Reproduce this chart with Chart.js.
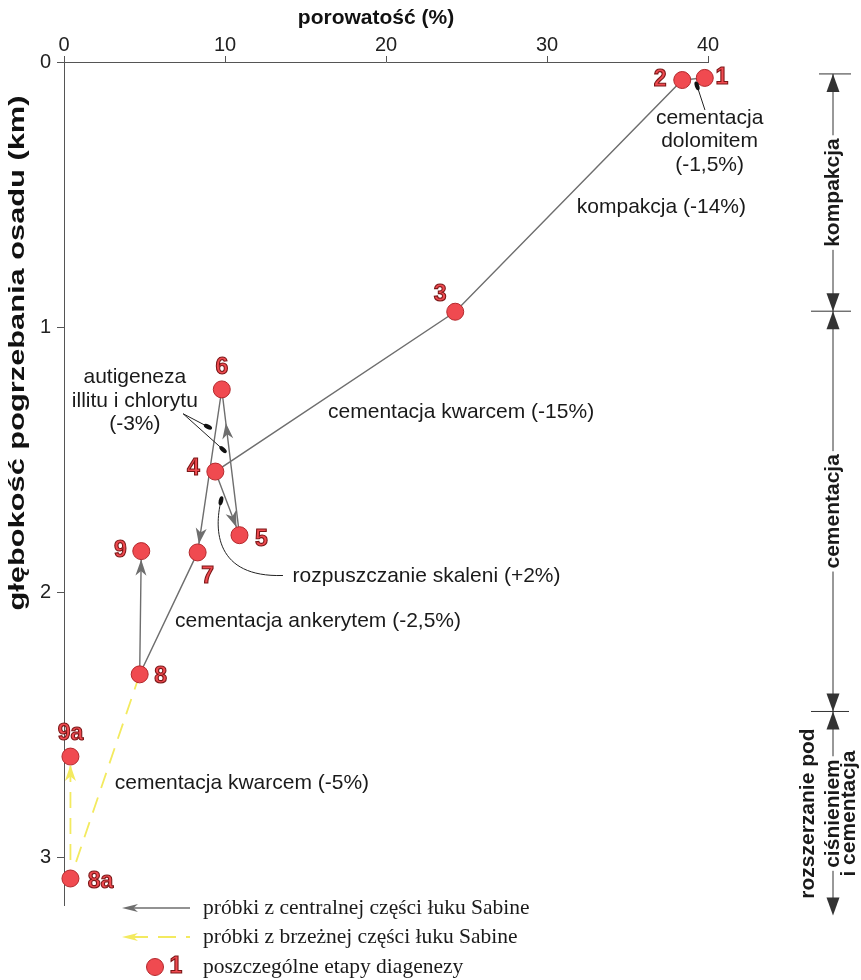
<!DOCTYPE html>
<html lang="pl">
<head>
<meta charset="utf-8">
<title>Porowatość a głębokość pogrzebania</title>
<script src="https://cdn.jsdelivr.net/npm/chart.js@4.4.1/dist/chart.umd.min.js"></script>
<style>
  html, body { margin: 0; padding: 0; background: #fff; }
  #wrap { width: 861px; height: 980px; }
</style>
</head>
<body>
<div id="wrap"><canvas id="diagenesisChart" width="861" height="980"></canvas></div>
<script>
// etapy diagenezy: porowatość (%) i głębokość pogrzebania (km)
const stageLabels = ['1', '2', '3', '4', '5', '6', '7', '8', '9', '8a', '9a'];
const porosity = [39.8, 38.4, 24.3, 9.4, 10.9, 9.8, 8.3, 4.7, 4.8, 0.4, 0.4];
const depth = [0.06, 0.068, 0.942, 1.545, 1.785, 1.235, 1.85, 2.31, 1.845, 3.08, 2.62];

// kolejność etapów na ścieżkach
const centralPath = ['1', '2', '3', '4', '5', '6', '7', '8', '9'];
const marginalPath = ['8', '8a', '9a'];

const xTicks = [0, 10, 20, 30, 40];
const yTicks = [0, 1, 2, 3];

// fazy na prawej skali (granice w km)
const phaseNames = [['kompakcja'], ['cementacja'], ['rozszerzanie pod', 'ciśnieniem', 'i cementacja']];
const phaseBounds = [0.045, 0.94, 2.45, 3.22];

const legendItems = [
    'próbki z centralnej części łuku Sabine',
    'próbki z brzeżnej części łuku Sabine',
    'poszczególne etapy diagenezy'
];

const GRAY = '#6e6e6e';
const YELLOW = '#f3ea5f';
const RED = '#f04a50';
const SANS = '"Liberation Sans", Arial, sans-serif';
const NARROW = '"Liberation Sans Narrow", "Liberation Sans", Arial, sans-serif';
const SERIF = '"Liberation Serif", "Times New Roman", serif';

// opisy procesów (pozycje w jednostkach wykresu)
const notes = [
    { lines: ['cementacja', 'dolomitem', '(-1,5%)'], x: 40.1, y: 0.211, align: 'center' },
    { lines: ['kompakcja (-14%)'], x: 31.85, y: 0.547, align: 'left' },
    { lines: ['autigeneza', 'illitu i chlorytu', '(-3%)'], x: 4.4, y: 1.19, align: 'center' },
    { lines: ['cementacja kwarcem (-15%)'], x: 16.4, y: 1.32, align: 'left' },
    { lines: ['rozpuszczanie skaleni (+2%)'], x: 14.2, y: 1.94, align: 'left' },
    { lines: ['cementacja ankerytem (-2,5%)'], x: 6.9, y: 2.11, align: 'left' },
    { lines: ['cementacja kwarcem (-5%)'], x: 3.15, y: 2.72, align: 'left' }
];

// odnośniki do opisów
const leaders = [
    { from: [39.81, 0.181], to: [39.32, 0.09] },
    { from: [7.4, 1.327], to: [8.94, 1.376] },
    { from: [7.4, 1.327], to: [9.88, 1.462] },
    { from: [13.6, 1.937], c1: [9.38, 1.945], c2: [9.32, 1.764], to: [9.75, 1.655] }
];

// groty strzałek na odcinkach (t = część odcinka, 'end' = przy punkcie)
const arrowHeads = [
    { from: '4', to: '5', t: 'end', color: GRAY },
    { from: '5', to: '6', t: 0.77, color: GRAY },
    { from: '6', to: '7', t: 'end', color: GRAY },
    { from: '8', to: '9', t: 'end', color: GRAY },
    { from: '8a', to: '9a', t: 'end', color: YELLOW }
];

const labelOffsets = {
    '1': [17, 0], '2': [-22, 0], '3': [-15, -17], '4': [-22, -3], '5': [22, 4],
    '6': [0, -22], '7': [10, 24], '8': [21, 2], '9': [-21, 0], '8a': [30, 3], '9a': [0, -23]
};

const POINT_R = 8.5;

function stagePoint(s) {
    const i = stageLabels.indexOf(s);
    return { x: porosity[i], y: depth[i] };
}

function drawHead(ctx, tx, ty, dx, dy, color, len = 16, half = 5.5) {
    const nx = -dy, ny = dx;
    ctx.save();
    ctx.fillStyle = color;
    ctx.beginPath();
    ctx.moveTo(tx, ty);
    ctx.lineTo(tx - len * dx + half * nx, ty - len * dy + half * ny);
    ctx.lineTo(tx - len * 0.72 * dx, ty - len * 0.72 * dy);
    ctx.lineTo(tx - len * dx - half * nx, ty - len * dy - half * ny);
    ctx.closePath();
    ctx.fill();
    ctx.restore();
}

function drawLeaf(ctx, x, y, angle) {
    ctx.save();
    ctx.fillStyle = '#111';
    ctx.beginPath();
    ctx.ellipse(x, y, 4.5, 2.2, angle, 0, Math.PI * 2);
    ctx.fill();
    ctx.restore();
}

function drawTri(ctx, x, tipY, dir) {
    // dir = -1 grot w górę, 1 grot w dół
    ctx.beginPath();
    ctx.moveTo(x, tipY);
    ctx.lineTo(x - 6.5, tipY - dir * 18);
    ctx.lineTo(x + 6.5, tipY - dir * 18);
    ctx.closePath();
    ctx.fill();
}

function stageText(ctx, txt, x, y, size) {
    ctx.font = 'bold ' + size + 'px ' + SANS;
    ctx.textAlign = 'center';
    ctx.textBaseline = 'middle';
    ctx.fillStyle = RED;
    ctx.fillText(txt, x, y);
    ctx.lineWidth = 1.1;
    ctx.strokeStyle = '#7a1616';
    ctx.strokeText(txt, x, y);
}

// tekst obrócony, rozciągnięty do zadanej długości
function fitText(ctx, txt, x, y, target) {
    const w = ctx.measureText(txt).width;
    ctx.save();
    ctx.translate(x, y);
    ctx.rotate(-Math.PI / 2);
    ctx.scale(target / w, 1);
    ctx.fillText(txt, 0, 0);
    ctx.restore();
}

const diagramExtras = {
    id: 'diagramExtras',
    afterDatasetsDraw(chart) {
        const ctx = chart.ctx;
        const xs = chart.scales.x, ys = chart.scales.y;
        const P = (x, y) => [xs.getPixelForValue(x), ys.getPixelForValue(y)];

        // groty strzałek
        arrowHeads.forEach(a => {
            const p0 = stagePoint(a.from), p1 = stagePoint(a.to);
            const [x0, y0] = P(p0.x, p0.y), [x1, y1] = P(p1.x, p1.y);
            const L = Math.hypot(x1 - x0, y1 - y0);
            const dx = (x1 - x0) / L, dy = (y1 - y0) / L;
            let tx, ty;
            if (a.t === 'end') { tx = x1 - dx * POINT_R; ty = y1 - dy * POINT_R; }
            else { tx = x0 + (x1 - x0) * a.t; ty = y0 + (y1 - y0) * a.t; }
            drawHead(ctx, tx, ty, dx, dy, a.color);
        });

        // etykiety etapów
        ctx.save();
        stageLabels.forEach((s, i) => {
            const [px, py] = P(porosity[i], depth[i]);
            const off = labelOffsets[s];
            stageText(ctx, s, px + off[0], py + off[1], 23);
        });
        ctx.restore();

        // opisy
        ctx.save();
        ctx.fillStyle = '#1a1a1a';
        ctx.font = '21px ' + SANS;
        ctx.textBaseline = 'middle';
        notes.forEach(n => {
            const [px, py] = P(n.x, n.y);
            ctx.textAlign = n.align;
            n.lines.forEach((ln, k) => ctx.fillText(ln, px, py + k * 23.5));
        });
        ctx.restore();

        // odnośniki
        ctx.save();
        ctx.strokeStyle = '#222';
        ctx.lineWidth = 1;
        leaders.forEach(l => {
            const [ax, ay] = P(l.from[0], l.from[1]);
            const [bx, by] = P(l.to[0], l.to[1]);
            ctx.beginPath();
            ctx.moveTo(ax, ay);
            let ang;
            if (l.c1) {
                const [c1x, c1y] = P(l.c1[0], l.c1[1]);
                const [c2x, c2y] = P(l.c2[0], l.c2[1]);
                ctx.bezierCurveTo(c1x, c1y, c2x, c2y, bx, by);
                ang = Math.atan2(by - c2y, bx - c2x);
            } else {
                ctx.lineTo(bx, by);
                ang = Math.atan2(by - ay, bx - ax);
            }
            ctx.stroke();
            drawLeaf(ctx, bx, by, ang);
        });
        ctx.restore();

        // tytuły osi
        ctx.save();
        ctx.fillStyle = '#111';
        ctx.font = 'bold 21px ' + SANS;
        ctx.textAlign = 'center';
        ctx.textBaseline = 'middle';
        ctx.fillText('porowatość (%)', 376, 18);
        ctx.font = 'bold 22px ' + SANS;
        fitText(ctx, 'głębokość pogrzebania osadu (km)', 18, 353, 515);
        ctx.restore();

        // prawa skala faz
        ctx.save();
        const bx = chart.chartArea.right + 125;
        const yb = phaseBounds.map(v => ys.getPixelForValue(v));
        ctx.strokeStyle = '#333';
        ctx.fillStyle = '#333';
        ctx.lineWidth = 1;
        ctx.beginPath();
        ctx.moveTo(bx, yb[0]);
        ctx.lineTo(bx, yb[3] - 4);
        ctx.moveTo(bx - 14, yb[0]); ctx.lineTo(bx + 18, yb[0]);
        ctx.moveTo(bx - 22, yb[1]); ctx.lineTo(bx + 18, yb[1]);
        ctx.moveTo(bx - 22, yb[2]); ctx.lineTo(bx + 16, yb[2]);
        ctx.stroke();
        drawTri(ctx, bx, yb[0], -1);
        drawTri(ctx, bx, yb[1], 1);
        drawTri(ctx, bx, yb[1], -1);
        drawTri(ctx, bx, yb[2], 1);
        drawTri(ctx, bx, yb[2], -1);
        drawTri(ctx, bx, yb[3], 1);

        ctx.font = 'bold 21px ' + NARROW;
        ctx.textAlign = 'center';
        ctx.textBaseline = 'middle';
        const colShift = [[0], [0], [-25, 0, 16]];
        phaseNames.forEach((lines, i) => {
            const cy = (yb[i] + yb[i + 1]) / 2;
            lines.forEach((ln, k) => {
                const v = colShift[i][k];
                ctx.save();
                ctx.translate(bx + v, cy);
                ctx.rotate(-Math.PI / 2);
                if (v === 0) {
                    const w = ctx.measureText(ln).width;
                    ctx.fillStyle = '#fff';
                    ctx.fillRect(-w / 2 - 3, -9, w + 6, 18);
                }
                ctx.fillStyle = '#1a1a1a';
                ctx.fillText(ln, 0, 0);
                ctx.restore();
            });
        });
        ctx.restore();

        // legenda
        ctx.save();
        const lx0 = 122, lx1 = 190, tx = 203, rows = [908, 937, 967];
        ctx.lineWidth = 1.4;
        ctx.strokeStyle = GRAY;
        ctx.beginPath(); ctx.moveTo(lx0 + 8, rows[0]); ctx.lineTo(lx1, rows[0]); ctx.stroke();
        drawHead(ctx, lx0, rows[0], -1, 0, GRAY, 16, 4);
        ctx.strokeStyle = YELLOW;
        ctx.lineWidth = 1.8;
        ctx.setLineDash([18, 10]);
        ctx.beginPath(); ctx.moveTo(lx0 + 8, rows[1]); ctx.lineTo(lx1, rows[1]); ctx.stroke();
        ctx.setLineDash([]);
        drawHead(ctx, lx0, rows[1], -1, 0, YELLOW, 16, 4);
        ctx.fillStyle = RED;
        ctx.strokeStyle = '#b3282c';
        ctx.lineWidth = 1;
        ctx.beginPath(); ctx.arc(155, rows[2], POINT_R, 0, Math.PI * 2); ctx.fill(); ctx.stroke();
        stageText(ctx, '1', 176, rows[2], 23);
        ctx.fillStyle = '#1a1a1a';
        ctx.font = '21.5px ' + SERIF;
        ctx.textAlign = 'left';
        ctx.textBaseline = 'middle';
        legendItems.forEach((t, i) => ctx.fillText(t, tx, rows[i]));
        ctx.restore();
    }
};

const canvas = document.getElementById('diagenesisChart');
new Chart(canvas.getContext('2d'), {
    type: 'scatter',
    data: {
        datasets: [
            {
                label: 'etapy diagenezy',
                data: stageLabels.map(stagePoint),
                pointRadius: POINT_R,
                pointHoverRadius: POINT_R,
                backgroundColor: RED,
                borderColor: '#b3282c',
                borderWidth: 1,
                clip: false
            },
            {
                label: 'centralna część łuku Sabine',
                data: centralPath.map(stagePoint),
                showLine: true,
                borderColor: GRAY,
                borderWidth: 1.4,
                pointRadius: 0,
                clip: false
            },
            {
                label: 'brzeżna część łuku Sabine',
                data: marginalPath.map(stagePoint),
                showLine: true,
                borderColor: YELLOW,
                borderWidth: 1.8,
                borderDash: [16, 10],
                pointRadius: 0,
                clip: false
            }
        ]
    },
    options: {
        responsive: false,
        animation: false,
        events: [],
        layout: { padding: { left: 0, top: 0, right: 153, bottom: 75 } },
        plugins: {
            legend: { display: false },
            tooltip: { enabled: false }
        },
        scales: {
            x: {
                type: 'linear',
                position: 'top',
                min: 0,
                max: 40,
                afterBuildTicks: s => { s.ticks = xTicks.map(v => ({ value: v })); },
                afterFit: s => { s.height = 62; },
                grid: { drawOnChartArea: false, drawTicks: true, tickLength: 6, color: '#555' },
                border: { display: true, color: '#555', width: 1 },
                ticks: { color: '#222', padding: -1, font: { family: NARROW, size: 20 } }
            },
            y: {
                type: 'linear',
                reverse: true,
                min: 0,
                max: 3.18,
                afterBuildTicks: s => { s.ticks = yTicks.map(v => ({ value: v })); },
                afterFit: s => { s.width = 64; },
                grid: { drawOnChartArea: false, drawTicks: true, tickLength: 7, color: '#555' },
                border: { display: true, color: '#555', width: 1 },
                ticks: { color: '#222', padding: 6, font: { family: NARROW, size: 20 } }
            }
        }
    },
    plugins: [diagramExtras]
});
</script>
</body>
</html>
